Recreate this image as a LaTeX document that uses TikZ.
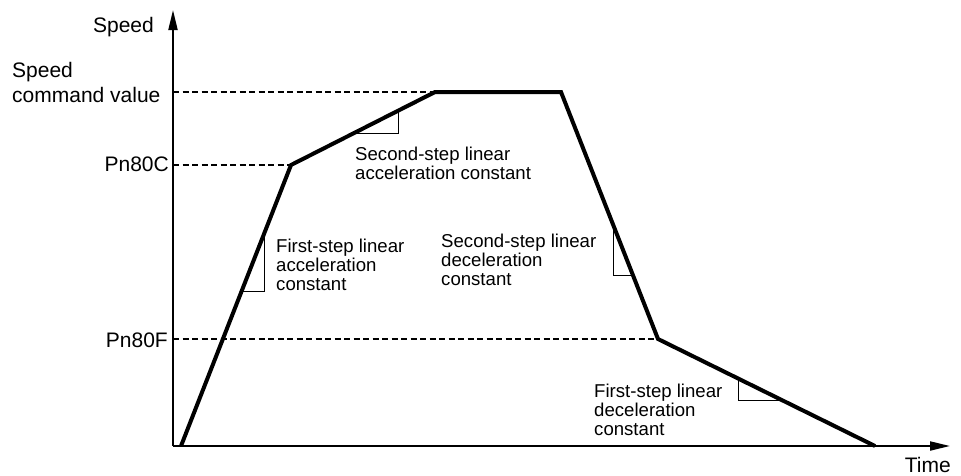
\documentclass[tikz,border=0pt]{standalone}
\usepackage{fontspec}
\setmainfont{Liberation Sans}
\usetikzlibrary{arrows.meta}
\newcommand\lblbig{\fontsize{21}{25}\selectfont}
\newcommand\lblsmall{\fontsize{18.6}{19.3}\selectfont}
\begin{document}
\begin{tikzpicture}[x=1pt,y=-1pt,
  axisline/.style={line width=2pt,-{Triangle[length=20pt,width=9pt]}},
  profile/.style={line width=4pt},
  dashline/.style={line width=1.7pt,dash pattern=on 6pt off 3.5pt},
  slopetri/.style={line width=1pt},
  outerlbl/.style={font=\lblbig,inner sep=0pt},
  innerlbl/.style={font=\lblsmall,inner sep=0pt,align=left,anchor=north west}]
\useasboundingbox (0,0) rectangle (961,475);
% axes
\coordinate (O) at (173,446);
\coordinate (Ytop) at (173,10);
\coordinate (Xend) at (950,446);
\draw[axisline] (O) -- (Ytop);
\draw[axisline] (O) -- (Xend);
% profile points
\coordinate (P0) at (181,446);
\coordinate (P1) at (291,165);
\coordinate (P2) at (435,92);
\coordinate (P3) at (561,92);
\coordinate (P4) at (658,339);
\coordinate (P5) at (875,446);
% axis levels
\coordinate (Yc) at (173,92);
\coordinate (Ya) at (173,165);
\coordinate (Yf) at (173,339);
\draw[dashline] (Yc) -- (P2);
\draw[dashline] (Ya) -- (P1);
\draw[dashline] (Yf) -- (P4);
% slope triangles
\draw[slopetri] (264,234) -- (264,291) -- (242,291);
\draw[slopetri] (398,110.8) -- (398,133) -- (354,133);
\draw[slopetri] (613,224) -- (613,275) -- (633,275);
\draw[slopetri] (738,378.4) -- (738,400) -- (782,400);
% profile
\draw[profile] (P0) -- (P1) -- (P2) -- (P3) -- (P4) -- (P5);
% labels
\node[outerlbl,anchor=base east] (speed) at (154,32) {Speed};
\node[outerlbl,align=left,anchor=north west] (cmd) at (12,61.7) {Speed\\command value};
\node[outerlbl,anchor=east] (pnc) at (169,164) {Pn80C};
\node[outerlbl,anchor=east] (pnf) at (168,340) {Pn80F};
\node[outerlbl,anchor=east] (time) at (951,464.5) {Time};
\node[innerlbl] (acc2) at (355,146.4) {Second-step linear\\acceleration constant};
\node[innerlbl] (acc1) at (276,238.4) {First-step linear\\acceleration\\constant};
\node[innerlbl] (dec2) at (441,233.4) {Second-step linear\\deceleration\\constant};
\node[innerlbl] (dec1) at (594,383.4) {First-step linear\\deceleration\\constant};
\end{tikzpicture}
\end{document}
